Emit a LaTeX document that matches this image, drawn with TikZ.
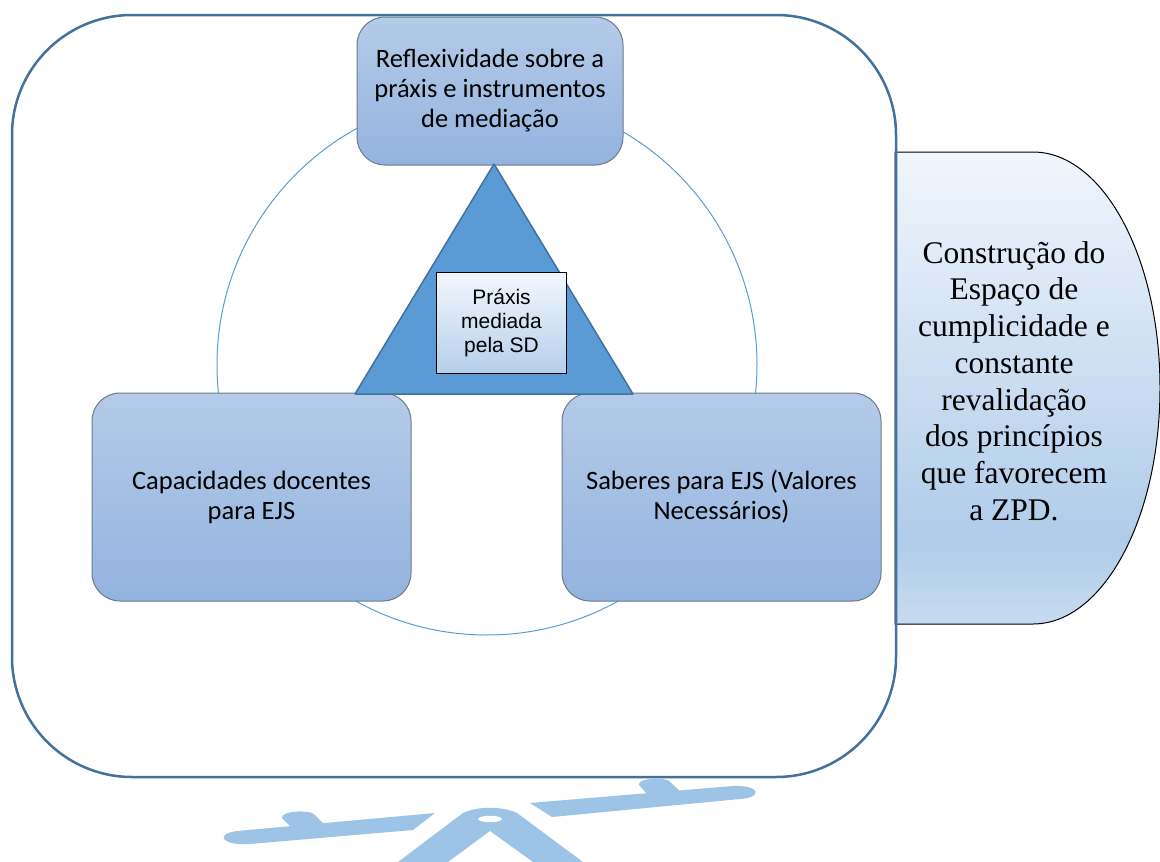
\documentclass[tikz,border=0pt]{standalone}
\usepackage{fontspec}
\setmainfont{Liberation Serif}
\newfontfamily\calibrifont{Carlito}
\newfontfamily\arialfont{Liberation Sans}
\usetikzlibrary{calc}

\definecolor{outerblue}{HTML}{41719C}
\definecolor{ringblue}{HTML}{5B9BD5}
\definecolor{boxline}{HTML}{6C7A89}
\definecolor{boxtop}{HTML}{B4CBE9}
\definecolor{boxbot}{HTML}{93B3DF}
\definecolor{sdtop}{HTML}{F3F7FC}
\definecolor{sdbot}{HTML}{B5CFEC}
\definecolor{zpdtop}{HTML}{F2F6FC}
\definecolor{zpdmid}{HTML}{AFCCEA}
\definecolor{zpdbot}{HTML}{C6DBF0}
\definecolor{seesaw}{HTML}{9DC3E6}

\pgfdeclareverticalshading{zpdshade}{100bp}{color(0bp)=(zpdbot); color(25bp)=(zpdbot); color(34bp)=(zpdmid); color(75bp)=(zpdtop); color(100bp)=(zpdtop)}

\tikzset{
  capbox/.style={draw=boxline, line width=1pt, rounded corners=28pt,
    top color=boxtop, bottom color=boxbot, text=black, align=center,
    inner sep=0pt, font=\calibrifont\fontsize{26.5}{30}\selectfont},
  sdbox/.style={draw=black, line width=1pt, top color=sdtop, bottom color=sdbot,
    text=black, align=center, inner sep=0pt,
    minimum width=130pt, minimum height=101pt,
    font=\arialfont\fontsize{21}{24}\selectfont},
  zpdtext/.style={text=black, align=center, inner sep=0pt,
    font=\fontsize{31.5}{36.7}\selectfont},
  outerline/.style={draw=outerblue, line width=2.5pt, rounded corners=120pt},
  seesawfill/.style={fill=seesaw}
}

\begin{document}
\begin{tikzpicture}[x=1pt, y=-1pt]
  \useasboundingbox (0,0) rectangle (1160,862);
  %%%%% START %%%%%
  % ring behind the three boxes
  \draw[ringblue, line width=1pt] (487,365) circle (270);

  \node[capbox, minimum width=266pt, minimum height=148pt] (reflex) at (490,91)
    {Reflexividade sobre a\\práxis e instrumentos\\de mediação};
  \node[capbox, minimum width=319pt, minimum height=208pt] (capac) at (251.5,497)
    {Capacidades docentes\\para EJS};
  \node[capbox, minimum width=319pt, minimum height=208pt] (saberes) at (721.5,497)
    {Saberes para EJS (Valores\\Necessários)};

  % triangle
  \coordinate (apex) at (494,164);
  \coordinate (baseL) at (355,394);
  \coordinate (baseR) at (633,394);
  \draw[fill=ringblue, draw=outerblue, line width=1.5pt, line join=round]
    (apex) -- (baseL) -- (baseR) -- cycle;
  \node[sdbox] (praxis) at (501.5,322.5) {Práxis\\mediada\\pela SD};

  % D shape on the right
  \shadedraw[shading=zpdshade, draw=black, line width=1pt]
    (895,152) -- (1033,152) arc[start angle=-90, end angle=90, x radius=127, y radius=236]
    -- (895,624) -- cycle;
  \node[zpdtext] (zpd) at (1014,381)
    {Construção do\\Espaço de\\cumplicidade e\\constante\\revalidação\\dos princípios\\que favorecem\\a ZPD.};

  \draw[outerline] (12,15) rectangle (896,777);

  % seesaw
  \fill[seesawfill] (435,813) -- (413,830) -- (250,844) .. controls (222,846) and (214,834) .. (237,831) -- cycle;
  \fill[seesawfill] (291,827) -- (282,818) .. controls (280,811) and (310,809) .. (315,815) -- (325,825) -- cycle;
  \fill[seesawfill] (530,803) -- (733,786) .. controls (762,785) and (762,798) .. (740,799) -- (552,817) -- cycle;
  \fill[seesawfill] (648,795) -- (639,785) .. controls (637,778) and (664,777) .. (669,781) -- (681,792) -- cycle;
  \fill[seesawfill] (398,862) -- (463,813) .. controls (478,806) and (502,806) .. (517,813)
    -- (583,862) -- (533,862) -- (490,831) -- (448,862) -- cycle;
  \fill[white] (490,819) ellipse [x radius=12, y radius=3.2];
  %%%%% END %%%%%
\end{tikzpicture}
\end{document}
